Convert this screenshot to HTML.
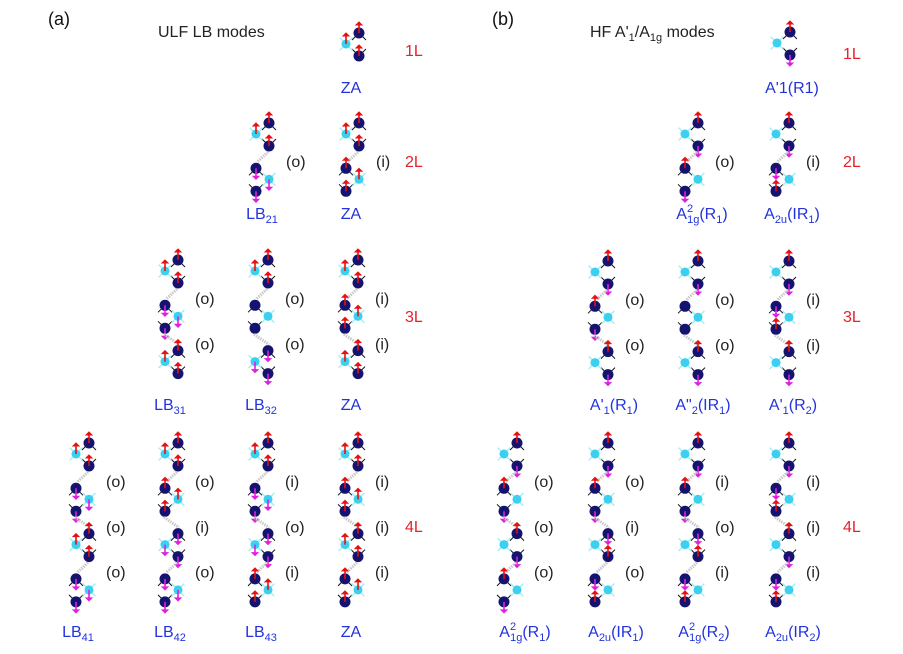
<!DOCTYPE html>
<html><head><meta charset="utf-8">
<style>
html,body{margin:0;padding:0;background:#fff;}
body{width:903px;height:654px;overflow:hidden;position:relative;font-family:"Liberation Sans",sans-serif;}
svg{position:absolute;left:0;top:0;}
</style></head><body>
<svg id="s" width="903" height="654" viewBox="0 0 903 654" xmlns="http://www.w3.org/2000/svg">
<g font-family="Liberation Sans, sans-serif">
<text x="48" y="25" font-size="18" fill="#111">(a)</text>
<text x="158" y="37" font-size="16" fill="#222">ULF LB modes</text>
<text x="492" y="25" font-size="18" fill="#111">(b)</text>
<text x="590" y="37" font-size="16" fill="#222">HF A'<tspan font-size="11" dy="4">1</tspan><tspan dy="-4">/A</tspan><tspan font-size="11" dy="4">1g</tspan><tspan dy="-4"> modes</tspan></text>
<g font-size="16" fill="#e8202a">
<text x="405" y="56">1L</text><text x="405" y="167">2L</text><text x="405" y="322">3L</text><text x="405" y="532">4L</text>
<text x="843" y="59">1L</text><text x="843" y="167">2L</text><text x="843" y="322">3L</text><text x="843" y="532">4L</text>
</g>
<g font-size="16" fill="#2233dd" text-anchor="middle">
<text x="351" y="93">ZA</text>
<text x="792" y="93">A'1(R1)</text>
<text x="262" y="219">LB<tspan font-size="11" dy="4">21</tspan></text>
<text x="351" y="219">ZA</text>
<text x="702" y="219">A<tspan font-size="11" dy="-7">2</tspan><tspan font-size="11" dx="-6" dy="11">1g</tspan><tspan dy="-4">(R</tspan><tspan font-size="11" dy="4">1</tspan><tspan dy="-4">)</tspan></text>
<text x="792" y="219">A<tspan font-size="11" dy="4">2u</tspan><tspan dy="-4">(IR</tspan><tspan font-size="11" dy="4">1</tspan><tspan dy="-4">)</tspan></text>
<text x="170" y="410">LB<tspan font-size="11" dy="4">31</tspan></text>
<text x="261" y="410">LB<tspan font-size="11" dy="4">32</tspan></text>
<text x="351" y="410">ZA</text>
<text x="614" y="410">A'<tspan font-size="11" dy="4">1</tspan><tspan dy="-4">(R</tspan><tspan font-size="11" dy="4">1</tspan><tspan dy="-4">)</tspan></text>
<text x="703" y="410">A"<tspan font-size="11" dy="4">2</tspan><tspan dy="-4">(IR</tspan><tspan font-size="11" dy="4">1</tspan><tspan dy="-4">)</tspan></text>
<text x="793" y="410">A'<tspan font-size="11" dy="4">1</tspan><tspan dy="-4">(R</tspan><tspan font-size="11" dy="4">2</tspan><tspan dy="-4">)</tspan></text>
<text x="78" y="637">LB<tspan font-size="11" dy="4">41</tspan></text>
<text x="170" y="637">LB<tspan font-size="11" dy="4">42</tspan></text>
<text x="261" y="637">LB<tspan font-size="11" dy="4">43</tspan></text>
<text x="351" y="637">ZA</text>
<text x="525" y="637">A<tspan font-size="11" dy="-7">2</tspan><tspan font-size="11" dx="-6" dy="11">1g</tspan><tspan dy="-4">(R</tspan><tspan font-size="11" dy="4">1</tspan><tspan dy="-4">)</tspan></text>
<text x="616" y="637">A<tspan font-size="11" dy="4">2u</tspan><tspan dy="-4">(IR</tspan><tspan font-size="11" dy="4">1</tspan><tspan dy="-4">)</tspan></text>
<text x="704" y="637">A<tspan font-size="11" dy="-7">2</tspan><tspan font-size="11" dx="-6" dy="11">1g</tspan><tspan dy="-4">(R</tspan><tspan font-size="11" dy="4">2</tspan><tspan dy="-4">)</tspan></text>
<text x="793" y="637">A<tspan font-size="11" dy="4">2u</tspan><tspan dy="-4">(IR</tspan><tspan font-size="11" dy="4">2</tspan><tspan dy="-4">)</tspan></text>
</g>
</g>
<g id="mols"></g>
</svg>
<script>
var NS="http://www.w3.org/2000/svg",G=document.getElementById("mols"),S=document.getElementById("s");
function el(n,a,p){var e=document.createElementNS(NS,n);for(var k in a)e.setAttribute(k,a[k]);(p||G).appendChild(e);return e;}
function arrow(x,y,dir){
 if(!dir)return;
 var c=dir>0?"#e81010":"#e020e0";
 var y2=dir>0?y-11:y+11;
 el("line",{x1:x,y1:y,x2:x,y2:y2+(dir>0?2:-2),stroke:c,"stroke-width":1.6});
 el("path",{d:dir>0?("M"+(x-3)+","+(y2+3)+"L"+x+","+y2+"L"+(x+3)+","+(y2+3)+"z"):("M"+(x-3)+","+(y2-3)+"L"+x+","+y2+"L"+(x+3)+","+(y2-3)+"z"),fill:c,stroke:c,"stroke-width":1});
}
function ball(x,y,top){
 var d=top?7:-7;
 el("line",{x1:x,y1:y,x2:x-7,y2:y+d,stroke:"#111","stroke-width":1});
 el("line",{x1:x,y1:y,x2:x+7,y2:y+d,stroke:"#111","stroke-width":1});
 el("circle",{cx:x,cy:y,r:5.5,fill:"#141470"});
}
function star(x,y){
 for(var i=0;i<4;i++){var a=Math.PI/4+i*Math.PI/2;el("line",{x1:x,y1:y,x2:x+9*Math.cos(a),y2:y+9*Math.sin(a),stroke:"#a8eef8","stroke-width":1.5});}
 el("circle",{cx:x,cy:y,r:4.5,fill:"#3cd0f0"});
}
function layer(xr,y,flip,t){
 var xb=flip?xr-13:xr, xs=flip?xr:xr-13;
 ball(xb,y,1);ball(xb,y+23,0);star(xs,y+11);
 var a=0,b=0,c=0;
 if(t=="U"){a=b=c=1}else if(t=="D"){a=b=c=-1}else if(t=="B"){a=1;c=-1}else if(t=="I"){a=-1;c=1}
 arrow(xb,y,a);arrow(xs,y+11,b);arrow(xb,y+23,c);
}
function col(xr,y0,types,labels){
 for(var i=0;i<types.length;i++){
  var y=y0+i*45.3;
  if(i>0){var yp=y-45.3+23;var xa=(i%2==1)?xr:xr-13,xc=(i%2==1)?xr-13:xr;
   el("line",{x1:xa-1,y1:yp+6,x2:xc+1,y2:y-6,stroke:"#c8c8c8","stroke-width":3,"stroke-dasharray":"1.5,1"});}
  layer(xr,y,i%2==1,types[i]);
 }
 if(labels)for(var j=0;j<labels.length;j++){
  var t=el("text",{x:xr+17,y:y0+j*45.3+44,"font-size":16,fill:"#222","font-family":"Liberation Sans, sans-serif"},S);t.textContent=labels[j];
 }
}
col(359,33,["U"]);
col(269,123,["U","D"],["(o)"]);
col(359,123,["U","U"],["(i)"]);
col(178,260,["U","D","U"],["(o)","(o)"]);
col(268,260,["U","N","D"],["(o)","(o)"]);
col(358,260,["U","U","U"],["(i)","(i)"]);
col(89,443,["U","D","U","D"],["(o)","(o)","(o)"]);
col(178,443,["U","U","D","D"],["(o)","(i)","(o)"]);
col(268,443,["U","D","D","U"],["(i)","(o)","(i)"]);
col(358,443,["U","U","U","U"],["(i)","(i)","(i)"]);
col(790,32,["B"]);
col(698,123,["B","B"],["(o)"]);
col(789,123,["B","I"],["(i)"]);
col(608,261,["B","B","B"],["(o)","(o)"]);
col(698,261,["B","N","B"],["(o)","(o)"]);
col(789,261,["B","I","B"],["(i)","(i)"]);
col(517,443,["B","B","B","B"],["(o)","(o)","(o)"]);
col(608,443,["B","B","I","I"],["(o)","(i)","(o)"]);
col(698,443,["B","B","I","I"],["(i)","(o)","(i)"]);
col(789,443,["B","I","B","I"],["(i)","(i)","(i)"]);
</script>
</body></html>
